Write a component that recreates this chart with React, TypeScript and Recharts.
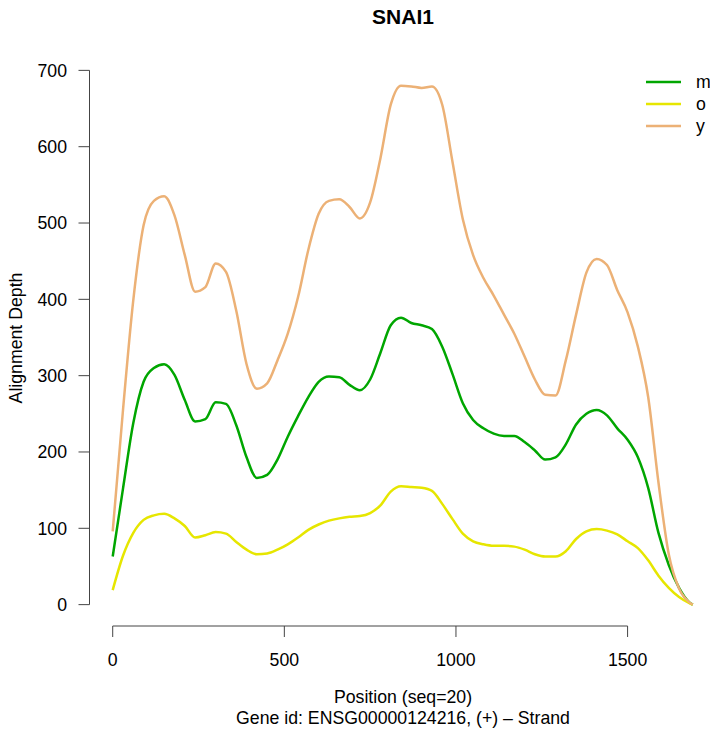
import { LineChart, Line, XAxis, YAxis, ReferenceLine } from 'recharts';

// positions along the gene (seq step 30, last point is gene end)
const positions = [0, 30, 60, 90, 120, 150, 180, 210, 240, 270, 300, 330, 360, 390, 420, 450, 480, 510, 540, 570, 600, 630, 660, 690, 720, 750, 780, 810, 840, 870, 900, 930, 960, 990, 1020, 1050, 1080, 1110, 1140, 1170, 1200, 1230, 1260, 1290, 1320, 1350, 1380, 1410, 1440, 1470, 1500, 1530, 1560, 1590, 1620, 1650, 1680, 1690];

const mDepth = [63, 152, 238, 292, 310, 315, 301, 268, 240, 243, 265, 263, 235, 193, 166, 170, 190, 220, 247, 272, 292, 299, 298, 288, 281, 295, 330, 366, 376, 369, 366, 361, 338, 302, 264, 242, 231, 224, 221, 221, 213, 202, 190, 193, 210, 236, 250, 255, 248, 231, 216, 193, 153, 94, 52, 22, 3, 0];
const oDepth = [19, 64, 94, 111, 117, 119, 113, 103, 88, 91, 95, 93, 82, 72, 66, 67, 72, 79, 88, 98, 105, 110, 113, 115, 116, 120, 130, 148, 155, 154, 153, 149, 132, 112, 93, 83, 79, 77, 77, 76, 72, 66, 63, 63, 70, 86, 96, 99, 97, 92, 83, 74, 58, 38, 22, 10, 2, 0];
const yDepth = [96, 255, 399, 497, 529, 535, 510, 458, 410, 416, 447, 436, 385, 315, 283, 290, 320, 355, 403, 465, 512, 529, 531, 521, 506, 527, 585, 655, 680, 679, 677, 679, 655, 580, 505, 458, 428, 405, 380, 355, 325, 295, 275, 274, 320, 380, 435, 453, 445, 412, 383, 338, 272, 160, 66, 21, 3, 0];

const seriesNames = ['m', 'o', 'y'];
const seriesColours = ['#00A600', '#E6E600', '#ECB176'];

const xTicks = [0, 500, 1000, 1500];
const yTicks = [0, 100, 200, 300, 400, 500, 600, 700];

const data = positions.map((pos, i) => ({ pos, m: mDepth[i], o: oDepth[i], y: yDepth[i] }));

const FONT = '"Liberation Sans", Arial, Helvetica, sans-serif';
const FS = 17.7;

export default function App() {
  return (
    <div style={{ position: 'absolute', left: 0, top: 0, width: 710, height: 736, overflow: 'hidden', background: '#fff', fontFamily: FONT }}>
      <LineChart width={720} height={736} data={data} margin={{ top: 49, right: 4, bottom: 50, left: 0 }}>
        <XAxis dataKey="pos" type="number" domain={[-67.6, 1757.6]} ticks={xTicks} allowDataOverflow
          axisLine={false} tickSize={11} tickMargin={16} height={60}
          tickLine={{ stroke: '#444' }} tick={{ fill: '#000', fontSize: FS, fontFamily: FONT }} />
        <YAxis type="number" domain={[-28, 728]} ticks={yTicks} allowDataOverflow width={89.5}
          axisLine={false} tickSize={11} tickMargin={11.5}
          tickLine={{ stroke: '#444' }} tick={{ fill: '#000', fontSize: FS, fontFamily: FONT }} />
        <ReferenceLine segment={[{ x: 0, y: -28 }, { x: 1500, y: -28 }]} stroke="#444" strokeWidth={1} ifOverflow="visible" />
        <ReferenceLine segment={[{ x: -67.6, y: 0 }, { x: -67.6, y: 700 }]} stroke="#444" strokeWidth={1} ifOverflow="visible" />
        {seriesNames.map((name, i) => (
          <Line key={name} dataKey={name} type="monotone" stroke={seriesColours[i]} strokeWidth={2.5}
            dot={false} activeDot={false} isAnimationActive={false} />
        ))}
      </LineChart>

      <div style={{ position: 'absolute', left: 0, width: 806, top: 4, textAlign: 'center', fontWeight: 'bold', fontSize: 21, lineHeight: '26px' }}>SNAI1</div>

      <div style={{ position: 'absolute', left: 0, width: 806, top: 687, textAlign: 'center', fontSize: FS, lineHeight: '21px' }}>
        Position (seq=20)<br />Gene id: ENSG00000124216, (+) – Strand
      </div>

      <div style={{ position: 'absolute', left: 16, top: 338, width: 0, height: 0 }}>
        <div style={{ position: 'absolute', transform: 'translate(-50%, -50%) rotate(-90deg)', whiteSpace: 'nowrap', fontSize: FS }}>Alignment Depth</div>
      </div>

      <svg style={{ position: 'absolute', left: 640, top: 68 }} width={70} height={72}>
        {seriesNames.map((name, i) => (
          <g key={name}>
            <line x1={6} x2={41} y1={14 + i * 22} y2={14 + i * 22} stroke={seriesColours[i]} strokeWidth={2.5} />
            <text x={56} y={14 + i * 22} dy="0.35em" fontSize={FS} fontFamily={FONT} fill="#000">{name}</text>
          </g>
        ))}
      </svg>
    </div>
  );
}
